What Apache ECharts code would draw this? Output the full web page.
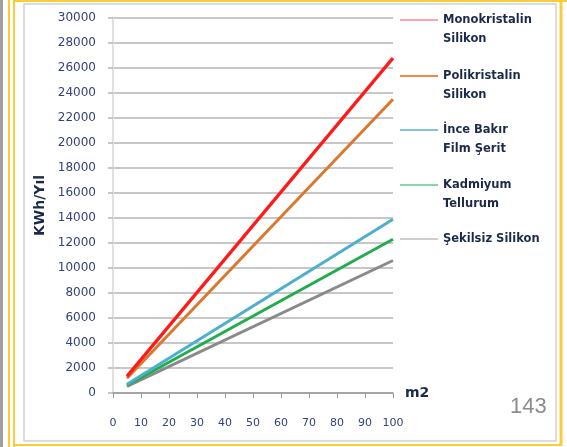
<!DOCTYPE html>
<html>
<head>
<meta charset="utf-8">
<script src="https://cdn.jsdelivr.net/npm/echarts@6/dist/echarts.min.js"></script>
<style>
  html, body { margin: 0; padding: 0; background: #fff; }
  #main { width: 567px; height: 447px; }
</style>
</head>
<body>
<div id="main"></div>
<script>
// alan (m2) ve yillik uretim (KWh/Yil), uc noktalar
var areas = [5, 100];
var mono = [1340, 26800];
var poli = [1175, 23500];
var ince = [700, 13900];
var kadmiyum = [620, 12300];
var sekilsiz = [530, 10600];

var names = ['Monokristalin\nSilikon', 'Polikristalin\nSilikon', 'İnce Bakır\nFilm Şerit', 'Kadmiyum\nTellurum', 'Şekilsiz Silikon'];
var lineColors = ['#ff1a1a', '#d9782e', '#4cb0cc', '#22ad4c', '#8a8a8a'];
var legendColors = ['#fba3ab', '#e98c47', '#7ec6dd', '#86d8a4', '#cfcfcf'];
var legendIconY = [20, 76, 130, 185, 239];
var seriesValues = [mono, poli, ince, kadmiyum, sekilsiz];

var chart = echarts.init(document.getElementById('main'));

function pairs(vals) {
  var out = [];
  for (var i = 0; i < areas.length; i++) out.push([areas[i], vals[i]]);
  return out;
}

var LH = 19;
var legends = [];
var series = [];
for (var i = 0; i < names.length; i++) {
  var twoLine = names[i].indexOf('\n') >= 0;
  var h = twoLine ? 3 * LH : LH;
  legends.push({
    data: [{ name: names[i], itemStyle: { color: legendColors[i] } }],
    left: 400,
    top: legendIconY[i] - h / 2,
    padding: 0,
    icon: 'rect',
    itemWidth: 38,
    itemHeight: 2,
    itemGap: 5,
    selectedMode: false,
    // bos ilk satir: ikon ilk yazi satiriyla hizalansin
    formatter: twoLine ? function (n) { return ' \n' + n; } : '{name}',
    textStyle: {
      fontFamily: 'DejaVu Sans',
      fontSize: 11.5,
      fontWeight: 'bold',
      color: '#1c2a4a',
      lineHeight: LH
    }
  });
  series.push({
    name: names[i],
    type: 'line',
    data: pairs(seriesValues[i]),
    symbol: 'none',
    lineStyle: { color: lineColors[i], width: i === 0 ? 3.5 : 3 },
    itemStyle: { color: lineColors[i] },
    z: 10 - i
  });
}

var option = {
  animation: false,
  backgroundColor: '#fff',
  grid: { left: 113, right: 174, top: 18, bottom: 54 },
  legend: legends,
  xAxis: {
    type: 'value',
    min: 0,
    max: 100,
    interval: 10,
    name: 'm2',
    nameLocation: 'end',
    nameGap: 12,
    nameTextStyle: { fontFamily: 'DejaVu Sans', fontSize: 14, fontWeight: 'bold', color: '#1c2a4a', verticalAlign: 'middle' },
    axisLine: { lineStyle: { color: '#9a9a9a', width: 1.5 } },
    axisTick: { show: true, length: 5, lineStyle: { color: '#9a9a9a' } },
    axisLabel: { margin: 25, fontFamily: 'DejaVu Sans', fontSize: 11, color: '#34437a' },
    splitLine: { show: false }
  },
  yAxis: {
    type: 'value',
    min: 0,
    max: 30000,
    interval: 2000,
    name: 'KWh/Yıl',
    nameLocation: 'middle',
    nameRotate: 90,
    nameGap: 66,
    nameTextStyle: { fontFamily: 'DejaVu Sans', fontSize: 14, fontWeight: 'bold', color: '#1c2a4a' },
    axisLine: { show: true, lineStyle: { color: '#e0e0e0', width: 2 } },
    axisTick: { show: true, length: 5, lineStyle: { color: '#b4b4b4', width: 1.5 } },
    axisLabel: {
      margin: 17, fontFamily: 'DejaVu Sans', fontSize: 12, color: '#34437a',
      formatter: function (v) { return String(v); }
    },
    splitLine: { show: true, lineStyle: { color: '#b4b4b4', width: 1.5 } }
  },
  graphic: [
    { type: 'line', shape: { x1: 1.5, y1: 0, x2: 1.5, y2: 447 }, style: { stroke: '#a0a0a0', lineWidth: 3 } },
    { type: 'line', shape: { x1: 9, y1: 0, x2: 9, y2: 447 }, style: { stroke: '#f9cd3a', lineWidth: 2 } },
    { type: 'line', shape: { x1: 14, y1: 0, x2: 14, y2: 447 }, style: { stroke: '#f9cd3a', lineWidth: 2 } },
    { type: 'line', shape: { x1: 14, y1: 1, x2: 567, y2: 1 }, style: { stroke: '#f9cd3a', lineWidth: 2 } },
    { type: 'line', shape: { x1: 14, y1: 445, x2: 562, y2: 445 }, style: { stroke: '#f9cd3a', lineWidth: 2 } },
    { type: 'line', shape: { x1: 561, y1: 0, x2: 561, y2: 446 }, style: { stroke: '#f9cd3a', lineWidth: 3 } },
    { type: 'rect', shape: { x: 24, y: 4, width: 532, height: 437 }, style: { fill: 'none', stroke: '#cfcfcf', lineWidth: 1.5 } },
    { type: 'text', left: 510, top: 396, style: { text: '143', font: '22px "Liberation Sans"', fill: '#8c8c8c' } }
  ],
  series: series
};

chart.setOption(option);
</script>
</body>
</html>
